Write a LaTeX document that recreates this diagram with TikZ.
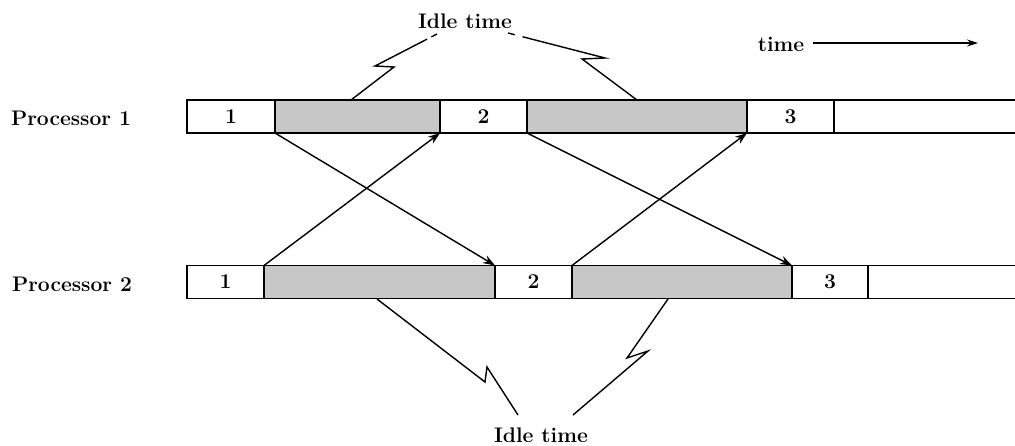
\documentclass[tikz,border=0pt]{standalone}
\usetikzlibrary{arrows.meta,calc}

\tikzset{
  seg/.style={draw, line width=0.9pt, minimum height={33*0.02cm}, inner sep=0pt,
              outer sep=0pt, anchor=west, font=\fontsize{12}{14}\selectfont\bfseries},
  idle/.style={seg, fill=black!22},
  lbl/.style={font=\fontsize{12}{14}\selectfont\bfseries, inner sep=0pt},
  msg/.style={line width=0.8pt, -{Stealth[length=2.4mm,width=1.7mm]}},
  bolt/.style={line width=0.8pt, line join=miter},
}

\begin{document}
\begin{tikzpicture}[x=0.02cm,y=-0.02cm]
\useasboundingbox (0,0) rectangle (1015,446);

% Processor 1 time line
\node[seg,  minimum width={88*0.02cm}]  (p1a) at (187,116.5) {1};
\node[idle, minimum width={165*0.02cm}] (p1g1) at (275,116.5) {};
\node[seg,  minimum width={87*0.02cm}]  (p1b) at (440,116.5) {2};
\node[idle, minimum width={220*0.02cm}] (p1g2) at (527,116.5) {};
\node[seg,  minimum width={87*0.02cm}]  (p1c) at (747,116.5) {3};
\node[seg,  minimum width={200*0.02cm}] (p1d) at (834,116.5) {};

% Processor 2 time line
\node[seg,  minimum width={77*0.02cm}]  (p2a) at (187,282) {1};
\node[idle, minimum width={231*0.02cm}] (p2g1) at (264,282) {};
\node[seg,  minimum width={77*0.02cm}]  (p2b) at (495,282) {2};
\node[idle, minimum width={220*0.02cm}] (p2g2) at (572,282) {};
\node[seg,  minimum width={76*0.02cm}]  (p2c) at (792,282) {3};
\node[seg,  minimum width={200*0.02cm}] (p2d) at (868,282) {};

% Row labels
\node[lbl] (proc1) at (71,118) {Processor 1};
\node[lbl] (proc2) at (72,284) {Processor 2};

% Messages exchanged between the processors
\draw[msg] (p1g1.south west) -- (p2g1.north east);
\draw[msg] (p2g1.north west) -- (p1g1.south east);
\draw[msg] (p1g2.south west) -- (p2g2.north east);
\draw[msg] (p2g2.north west) -- (p1g2.south east);

% Time axis
\node[lbl] (tlbl) at (781,44) {time};
\coordinate (tend) at (978,43);
\draw[line width=0.6pt, -{Stealth[length=2.2mm,width=1.4mm]}] ($(tlbl.east)+(8,-1)$) -- (tend);

% Idle time callouts, upper row
\node[lbl] (idleup) at (465,21) {Idle time};
\coordinate (u1) at (437,34);
\coordinate (u2) at (375,66);
\coordinate (u3) at (394,67);
\coordinate (u4) at (351,100);
\draw[bolt] (u1) -- ($(u1)!0.09!(u2)$);
\draw[bolt] ($(u1)!0.16!(u2)$) -- (u2) -- (u3) -- (u4);
\coordinate (v1) at (508,33);
\coordinate (v2) at (605,58);
\coordinate (v3) at (582,59);
\coordinate (v4) at (637,100);
\draw[bolt] (v1) -- ($(v1)!0.07!(v2)$);
\draw[bolt] ($(v1)!0.15!(v2)$) -- (v2) -- (v3) -- (v4);

% Idle time callouts, lower row
\node[lbl] (idledn) at (541,435) {Idle time};
\coordinate (w1) at (377,299);
\coordinate (w2) at (485,382);
\coordinate (w3) at (487,367);
\coordinate (w4) at (518,415);
\draw[bolt] (w1) -- (w2) -- (w3) -- (w4);
\coordinate (z1) at (668,299);
\coordinate (z2) at (627,358);
\coordinate (z3) at (648,351);
\coordinate (z4) at (573,415);
\draw[bolt] (z1) -- (z2) -- (z3) -- (z4);
\end{tikzpicture}
\end{document}
